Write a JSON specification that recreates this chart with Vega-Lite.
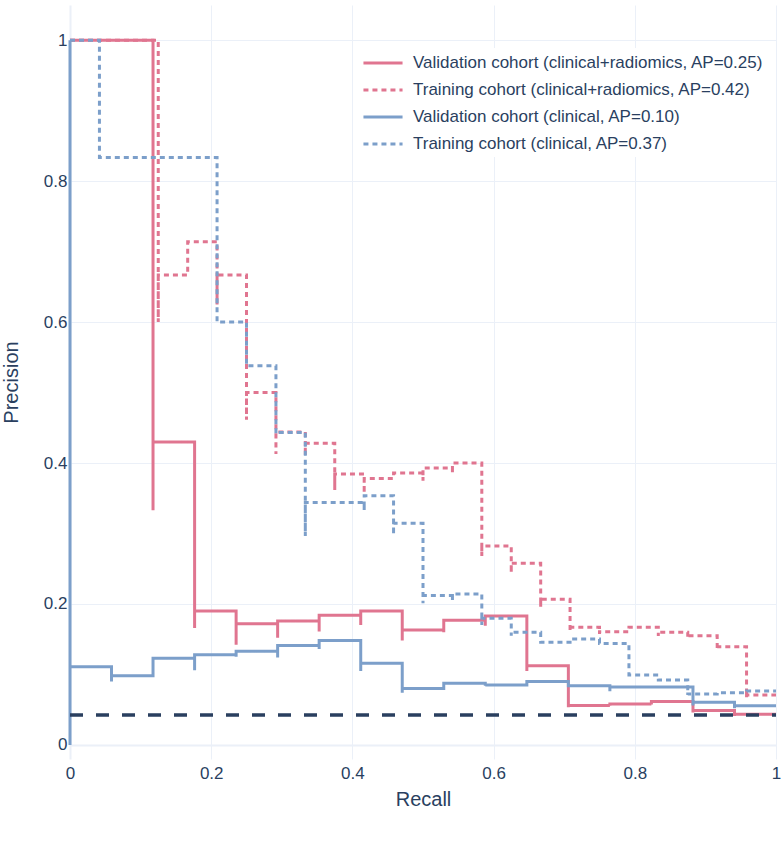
{
  "$schema": "https://vega.github.io/schema/vega-lite/v6.json",
  "width": 706,
  "height": 754,
  "autosize": {"type": "none"},
  "padding": {"left": 70, "top": 5, "right": 5, "bottom": 86},
  "background": "white",
  "config": {
    "view": {"stroke": null},
    "font": "Liberation Sans",
    "axis": {
      "domain": false,
      "ticks": false,
      "gridColor": "#ebf0f8",
      "gridWidth": {"condition": {"test": "datum.value === 0", "value": 2}, "value": 1},
      "labelFontSize": 17,
      "labelColor": "#2a3f5f",
      "titleFontSize": 20,
      "titleColor": "#2a3f5f",
      "titleFontWeight": "normal",
      "labelFont": "Liberation Sans",
      "titleFont": "Liberation Sans"
    }
  },
  "datasets": {
    "curves": [
      {"series": "Validation cohort (clinical+radiomics, AP=0.25)", "i": 0, "recall": 0, "precision": 1},
      {"series": "Validation cohort (clinical+radiomics, AP=0.25)", "i": 1, "recall": 0.1176, "precision": 1},
      {"series": "Validation cohort (clinical+radiomics, AP=0.25)", "i": 2, "recall": 0.1176, "precision": 0.333},
      {"series": "Validation cohort (clinical+radiomics, AP=0.25)", "i": 3, "recall": 0.1765, "precision": 0.43},
      {"series": "Validation cohort (clinical+radiomics, AP=0.25)", "i": 4, "recall": 0.1765, "precision": 0.166},
      {"series": "Validation cohort (clinical+radiomics, AP=0.25)", "i": 5, "recall": 0.2353, "precision": 0.19},
      {"series": "Validation cohort (clinical+radiomics, AP=0.25)", "i": 6, "recall": 0.2353, "precision": 0.142},
      {"series": "Validation cohort (clinical+radiomics, AP=0.25)", "i": 7, "recall": 0.2941, "precision": 0.172},
      {"series": "Validation cohort (clinical+radiomics, AP=0.25)", "i": 8, "recall": 0.2941, "precision": 0.152},
      {"series": "Validation cohort (clinical+radiomics, AP=0.25)", "i": 9, "recall": 0.3529, "precision": 0.176},
      {"series": "Validation cohort (clinical+radiomics, AP=0.25)", "i": 10, "recall": 0.3529, "precision": 0.161},
      {"series": "Validation cohort (clinical+radiomics, AP=0.25)", "i": 11, "recall": 0.4118, "precision": 0.184},
      {"series": "Validation cohort (clinical+radiomics, AP=0.25)", "i": 12, "recall": 0.4118, "precision": 0.17},
      {"series": "Validation cohort (clinical+radiomics, AP=0.25)", "i": 13, "recall": 0.4706, "precision": 0.19},
      {"series": "Validation cohort (clinical+radiomics, AP=0.25)", "i": 14, "recall": 0.4706, "precision": 0.148},
      {"series": "Validation cohort (clinical+radiomics, AP=0.25)", "i": 15, "recall": 0.5294, "precision": 0.163},
      {"series": "Validation cohort (clinical+radiomics, AP=0.25)", "i": 16, "recall": 0.5294, "precision": 0.16},
      {"series": "Validation cohort (clinical+radiomics, AP=0.25)", "i": 17, "recall": 0.5882, "precision": 0.177},
      {"series": "Validation cohort (clinical+radiomics, AP=0.25)", "i": 18, "recall": 0.5882, "precision": 0.169},
      {"series": "Validation cohort (clinical+radiomics, AP=0.25)", "i": 19, "recall": 0.6471, "precision": 0.183},
      {"series": "Validation cohort (clinical+radiomics, AP=0.25)", "i": 20, "recall": 0.6471, "precision": 0.105},
      {"series": "Validation cohort (clinical+radiomics, AP=0.25)", "i": 21, "recall": 0.7059, "precision": 0.1125},
      {"series": "Validation cohort (clinical+radiomics, AP=0.25)", "i": 22, "recall": 0.7059, "precision": 0.0535},
      {"series": "Validation cohort (clinical+radiomics, AP=0.25)", "i": 23, "recall": 0.7647, "precision": 0.0558},
      {"series": "Validation cohort (clinical+radiomics, AP=0.25)", "i": 24, "recall": 0.7647, "precision": 0.0555},
      {"series": "Validation cohort (clinical+radiomics, AP=0.25)", "i": 25, "recall": 0.8235, "precision": 0.058},
      {"series": "Validation cohort (clinical+radiomics, AP=0.25)", "i": 26, "recall": 0.8235, "precision": 0.0575},
      {"series": "Validation cohort (clinical+radiomics, AP=0.25)", "i": 27, "recall": 0.8824, "precision": 0.0615},
      {"series": "Validation cohort (clinical+radiomics, AP=0.25)", "i": 28, "recall": 0.8824, "precision": 0.046},
      {"series": "Validation cohort (clinical+radiomics, AP=0.25)", "i": 29, "recall": 0.9412, "precision": 0.0487},
      {"series": "Validation cohort (clinical+radiomics, AP=0.25)", "i": 30, "recall": 0.9412, "precision": 0.041},
      {"series": "Validation cohort (clinical+radiomics, AP=0.25)", "i": 31, "recall": 1, "precision": 0.0435},

      {"series": "Training cohort (clinical+radiomics, AP=0.42)", "i": 0, "recall": 0, "precision": 1},
      {"series": "Training cohort (clinical+radiomics, AP=0.42)", "i": 1, "recall": 0.125, "precision": 1},
      {"series": "Training cohort (clinical+radiomics, AP=0.42)", "i": 2, "recall": 0.125, "precision": 0.6},
      {"series": "Training cohort (clinical+radiomics, AP=0.42)", "i": 3, "recall": 0.1667, "precision": 0.667},
      {"series": "Training cohort (clinical+radiomics, AP=0.42)", "i": 4, "recall": 0.2083, "precision": 0.714},
      {"series": "Training cohort (clinical+radiomics, AP=0.42)", "i": 5, "recall": 0.2083, "precision": 0.625},
      {"series": "Training cohort (clinical+radiomics, AP=0.42)", "i": 6, "recall": 0.25, "precision": 0.667},
      {"series": "Training cohort (clinical+radiomics, AP=0.42)", "i": 7, "recall": 0.25, "precision": 0.4615},
      {"series": "Training cohort (clinical+radiomics, AP=0.42)", "i": 8, "recall": 0.2917, "precision": 0.5},
      {"series": "Training cohort (clinical+radiomics, AP=0.42)", "i": 9, "recall": 0.2917, "precision": 0.413},
      {"series": "Training cohort (clinical+radiomics, AP=0.42)", "i": 10, "recall": 0.3333, "precision": 0.444},
      {"series": "Training cohort (clinical+radiomics, AP=0.42)", "i": 11, "recall": 0.3333, "precision": 0.41},
      {"series": "Training cohort (clinical+radiomics, AP=0.42)", "i": 12, "recall": 0.375, "precision": 0.428},
      {"series": "Training cohort (clinical+radiomics, AP=0.42)", "i": 13, "recall": 0.375, "precision": 0.3617},
      {"series": "Training cohort (clinical+radiomics, AP=0.42)", "i": 14, "recall": 0.4167, "precision": 0.3845},
      {"series": "Training cohort (clinical+radiomics, AP=0.42)", "i": 15, "recall": 0.4167, "precision": 0.357},
      {"series": "Training cohort (clinical+radiomics, AP=0.42)", "i": 16, "recall": 0.4583, "precision": 0.378},
      {"series": "Training cohort (clinical+radiomics, AP=0.42)", "i": 17, "recall": 0.5, "precision": 0.386},
      {"series": "Training cohort (clinical+radiomics, AP=0.42)", "i": 18, "recall": 0.5, "precision": 0.375},
      {"series": "Training cohort (clinical+radiomics, AP=0.42)", "i": 19, "recall": 0.5417, "precision": 0.393},
      {"series": "Training cohort (clinical+radiomics, AP=0.42)", "i": 20, "recall": 0.5417, "precision": 0.385},
      {"series": "Training cohort (clinical+radiomics, AP=0.42)", "i": 21, "recall": 0.5833, "precision": 0.4},
      {"series": "Training cohort (clinical+radiomics, AP=0.42)", "i": 22, "recall": 0.5833, "precision": 0.268},
      {"series": "Training cohort (clinical+radiomics, AP=0.42)", "i": 23, "recall": 0.625, "precision": 0.2823},
      {"series": "Training cohort (clinical+radiomics, AP=0.42)", "i": 24, "recall": 0.625, "precision": 0.244},
      {"series": "Training cohort (clinical+radiomics, AP=0.42)", "i": 25, "recall": 0.6667, "precision": 0.2577},
      {"series": "Training cohort (clinical+radiomics, AP=0.42)", "i": 26, "recall": 0.6667, "precision": 0.196},
      {"series": "Training cohort (clinical+radiomics, AP=0.42)", "i": 27, "recall": 0.7083, "precision": 0.2067},
      {"series": "Training cohort (clinical+radiomics, AP=0.42)", "i": 28, "recall": 0.7083, "precision": 0.1617},
      {"series": "Training cohort (clinical+radiomics, AP=0.42)", "i": 29, "recall": 0.75, "precision": 0.167},
      {"series": "Training cohort (clinical+radiomics, AP=0.42)", "i": 30, "recall": 0.75, "precision": 0.1574},
      {"series": "Training cohort (clinical+radiomics, AP=0.42)", "i": 31, "recall": 0.7917, "precision": 0.1607},
      {"series": "Training cohort (clinical+radiomics, AP=0.42)", "i": 32, "recall": 0.8333, "precision": 0.167},
      {"series": "Training cohort (clinical+radiomics, AP=0.42)", "i": 33, "recall": 0.8333, "precision": 0.1546},
      {"series": "Training cohort (clinical+radiomics, AP=0.42)", "i": 34, "recall": 0.875, "precision": 0.16},
      {"series": "Training cohort (clinical+radiomics, AP=0.42)", "i": 35, "recall": 0.875, "precision": 0.152},
      {"series": "Training cohort (clinical+radiomics, AP=0.42)", "i": 36, "recall": 0.9167, "precision": 0.155},
      {"series": "Training cohort (clinical+radiomics, AP=0.42)", "i": 37, "recall": 0.9167, "precision": 0.135},
      {"series": "Training cohort (clinical+radiomics, AP=0.42)", "i": 38, "recall": 0.9583, "precision": 0.1394},
      {"series": "Training cohort (clinical+radiomics, AP=0.42)", "i": 39, "recall": 0.9583, "precision": 0.0676},
      {"series": "Training cohort (clinical+radiomics, AP=0.42)", "i": 40, "recall": 1, "precision": 0.0709},

      {"series": "Validation cohort (clinical, AP=0.10)", "i": 0, "recall": 0, "precision": 1},
      {"series": "Validation cohort (clinical, AP=0.10)", "i": 1, "recall": 0, "precision": 0},
      {"series": "Validation cohort (clinical, AP=0.10)", "i": 2, "recall": 0.0588, "precision": 0.111},
      {"series": "Validation cohort (clinical, AP=0.10)", "i": 3, "recall": 0.0588, "precision": 0.09},
      {"series": "Validation cohort (clinical, AP=0.10)", "i": 4, "recall": 0.1176, "precision": 0.098},
      {"series": "Validation cohort (clinical, AP=0.10)", "i": 5, "recall": 0.1765, "precision": 0.123},
      {"series": "Validation cohort (clinical, AP=0.10)", "i": 6, "recall": 0.1765, "precision": 0.106},
      {"series": "Validation cohort (clinical, AP=0.10)", "i": 7, "recall": 0.2353, "precision": 0.128},
      {"series": "Validation cohort (clinical, AP=0.10)", "i": 8, "recall": 0.2353, "precision": 0.125},
      {"series": "Validation cohort (clinical, AP=0.10)", "i": 9, "recall": 0.2941, "precision": 0.133},
      {"series": "Validation cohort (clinical, AP=0.10)", "i": 10, "recall": 0.2941, "precision": 0.124},
      {"series": "Validation cohort (clinical, AP=0.10)", "i": 11, "recall": 0.3529, "precision": 0.141},
      {"series": "Validation cohort (clinical, AP=0.10)", "i": 12, "recall": 0.3529, "precision": 0.136},
      {"series": "Validation cohort (clinical, AP=0.10)", "i": 13, "recall": 0.4118, "precision": 0.148},
      {"series": "Validation cohort (clinical, AP=0.10)", "i": 14, "recall": 0.4118, "precision": 0.105},
      {"series": "Validation cohort (clinical, AP=0.10)", "i": 15, "recall": 0.4706, "precision": 0.116},
      {"series": "Validation cohort (clinical, AP=0.10)", "i": 16, "recall": 0.4706, "precision": 0.074},
      {"series": "Validation cohort (clinical, AP=0.10)", "i": 17, "recall": 0.5294, "precision": 0.08},
      {"series": "Validation cohort (clinical, AP=0.10)", "i": 18, "recall": 0.5882, "precision": 0.0875},
      {"series": "Validation cohort (clinical, AP=0.10)", "i": 19, "recall": 0.5882, "precision": 0.084},
      {"series": "Validation cohort (clinical, AP=0.10)", "i": 20, "recall": 0.6471, "precision": 0.085},
      {"series": "Validation cohort (clinical, AP=0.10)", "i": 21, "recall": 0.7059, "precision": 0.09},
      {"series": "Validation cohort (clinical, AP=0.10)", "i": 22, "recall": 0.7647, "precision": 0.084},
      {"series": "Validation cohort (clinical, AP=0.10)", "i": 23, "recall": 0.7647, "precision": 0.076},
      {"series": "Validation cohort (clinical, AP=0.10)", "i": 24, "recall": 0.8824, "precision": 0.082},
      {"series": "Validation cohort (clinical, AP=0.10)", "i": 25, "recall": 0.8824, "precision": 0.056},
      {"series": "Validation cohort (clinical, AP=0.10)", "i": 26, "recall": 0.9412, "precision": 0.0605},
      {"series": "Validation cohort (clinical, AP=0.10)", "i": 27, "recall": 0.9412, "precision": 0.052},
      {"series": "Validation cohort (clinical, AP=0.10)", "i": 28, "recall": 1, "precision": 0.0557},

      {"series": "Training cohort (clinical, AP=0.37)", "i": 0, "recall": 0, "precision": 1},
      {"series": "Training cohort (clinical, AP=0.37)", "i": 1, "recall": 0.0417, "precision": 1},
      {"series": "Training cohort (clinical, AP=0.37)", "i": 2, "recall": 0.2083, "precision": 0.8337},
      {"series": "Training cohort (clinical, AP=0.37)", "i": 3, "recall": 0.2083, "precision": 0.6},
      {"series": "Training cohort (clinical, AP=0.37)", "i": 4, "recall": 0.25, "precision": 0.6},
      {"series": "Training cohort (clinical, AP=0.37)", "i": 5, "recall": 0.2917, "precision": 0.538},
      {"series": "Training cohort (clinical, AP=0.37)", "i": 6, "recall": 0.2917, "precision": 0.442},
      {"series": "Training cohort (clinical, AP=0.37)", "i": 7, "recall": 0.3333, "precision": 0.4435},
      {"series": "Training cohort (clinical, AP=0.37)", "i": 8, "recall": 0.3333, "precision": 0.2965},
      {"series": "Training cohort (clinical, AP=0.37)", "i": 9, "recall": 0.4167, "precision": 0.344},
      {"series": "Training cohort (clinical, AP=0.37)", "i": 10, "recall": 0.4167, "precision": 0.333},
      {"series": "Training cohort (clinical, AP=0.37)", "i": 11, "recall": 0.4583, "precision": 0.3536},
      {"series": "Training cohort (clinical, AP=0.37)", "i": 12, "recall": 0.4583, "precision": 0.298},
      {"series": "Training cohort (clinical, AP=0.37)", "i": 13, "recall": 0.5, "precision": 0.3145},
      {"series": "Training cohort (clinical, AP=0.37)", "i": 14, "recall": 0.5, "precision": 0.201},
      {"series": "Training cohort (clinical, AP=0.37)", "i": 15, "recall": 0.5417, "precision": 0.212},
      {"series": "Training cohort (clinical, AP=0.37)", "i": 16, "recall": 0.5417, "precision": 0.205},
      {"series": "Training cohort (clinical, AP=0.37)", "i": 17, "recall": 0.5833, "precision": 0.2142},
      {"series": "Training cohort (clinical, AP=0.37)", "i": 18, "recall": 0.5833, "precision": 0.17},
      {"series": "Training cohort (clinical, AP=0.37)", "i": 19, "recall": 0.625, "precision": 0.1797},
      {"series": "Training cohort (clinical, AP=0.37)", "i": 20, "recall": 0.625, "precision": 0.155},
      {"series": "Training cohort (clinical, AP=0.37)", "i": 21, "recall": 0.6667, "precision": 0.16},
      {"series": "Training cohort (clinical, AP=0.37)", "i": 22, "recall": 0.7083, "precision": 0.1457},
      {"series": "Training cohort (clinical, AP=0.37)", "i": 23, "recall": 0.75, "precision": 0.1504},
      {"series": "Training cohort (clinical, AP=0.37)", "i": 24, "recall": 0.7917, "precision": 0.144},
      {"series": "Training cohort (clinical, AP=0.37)", "i": 25, "recall": 0.8333, "precision": 0.0993},
      {"series": "Training cohort (clinical, AP=0.37)", "i": 26, "recall": 0.875, "precision": 0.092},
      {"series": "Training cohort (clinical, AP=0.37)", "i": 27, "recall": 0.875, "precision": 0.0709},
      {"series": "Training cohort (clinical, AP=0.37)", "i": 28, "recall": 0.9167, "precision": 0.0723},
      {"series": "Training cohort (clinical, AP=0.37)", "i": 29, "recall": 0.9583, "precision": 0.074},
      {"series": "Training cohort (clinical, AP=0.37)", "i": 30, "recall": 1, "precision": 0.0766}
    ],
    "baseline": [
      {"recall": 0, "precision": 0.0426},
      {"recall": 1, "precision": 0.0426}
    ]
  },
  "data": {"name": "curves"},
  "encoding": {
    "x": {
      "field": "recall", "type": "quantitative",
      "scale": {"domain": [0, 1], "nice": false, "zero": false},
      "axis": {"title": "Recall", "values": [0, 0.2, 0.4, 0.6, 0.8, 1], "format": "~g", "labelPadding": 6, "titlePadding": 8, "labelFlush": false}
    },
    "y": {
      "field": "precision", "type": "quantitative",
      "scale": {"domain": [-0.02, 1.05], "nice": false, "zero": false},
      "axis": {"title": "Precision", "values": [0, 0.2, 0.4, 0.6, 0.8, 1], "format": "~g", "labelPadding": 3, "titlePadding": 22}
    }
  },
  "layer": [
    {
      "transform": [{"filter": "datum.series === 'Validation cohort (clinical+radiomics, AP=0.25)'"}],
      "mark": {"type": "line", "interpolate": "step-before", "strokeWidth": 3, "strokeCap": "butt"},
      "encoding": {
        "order": {"field": "i", "type": "quantitative"},
        "color": {"field": "series", "type": "nominal"},
        "strokeDash": {"field": "series", "type": "nominal"}
      }
    },
    {
      "transform": [{"filter": "datum.series === 'Training cohort (clinical+radiomics, AP=0.42)'"}],
      "mark": {"type": "line", "interpolate": "step-before", "strokeWidth": 3, "strokeCap": "butt"},
      "encoding": {
        "order": {"field": "i", "type": "quantitative"},
        "color": {"field": "series", "type": "nominal"},
        "strokeDash": {"field": "series", "type": "nominal"}
      }
    },
    {
      "transform": [{"filter": "datum.series === 'Validation cohort (clinical, AP=0.10)'"}],
      "mark": {"type": "line", "interpolate": "step-before", "strokeWidth": 3, "strokeCap": "butt"},
      "encoding": {
        "order": {"field": "i", "type": "quantitative"},
        "color": {"field": "series", "type": "nominal"},
        "strokeDash": {"field": "series", "type": "nominal"}
      }
    },
    {
      "transform": [{"filter": "datum.series === 'Training cohort (clinical, AP=0.37)'"}],
      "mark": {"type": "line", "interpolate": "step-before", "strokeWidth": 3, "strokeCap": "butt"},
      "encoding": {
        "order": {"field": "i", "type": "quantitative"},
        "color": {
          "field": "series", "type": "nominal",
          "scale": {
            "domain": ["Validation cohort (clinical+radiomics, AP=0.25)", "Training cohort (clinical+radiomics, AP=0.42)", "Validation cohort (clinical, AP=0.10)", "Training cohort (clinical, AP=0.37)"],
            "range": ["#e07590", "#e07590", "#7c9fca", "#7c9fca"]
          },
          "legend": {
            "title": null,
            "orient": "none",
            "legendX": 298,
            "legendY": 43,
            "fillColor": "white",
            "padding": 5,
            "symbolType": "M-2.3,0H2.3",
            "symbolSize": 289,
            "symbolStrokeWidth": 3,
            "labelFontSize": 17,
            "labelColor": "#2a3f5f",
            "labelFont": "Liberation Sans",
            "labelOffset": 20,
            "labelLimit": 500,
            "rowPadding": 9
          }
        },
        "strokeDash": {
          "field": "series", "type": "nominal",
          "scale": {
            "domain": ["Validation cohort (clinical+radiomics, AP=0.25)", "Training cohort (clinical+radiomics, AP=0.42)", "Validation cohort (clinical, AP=0.10)", "Training cohort (clinical, AP=0.37)"],
            "range": [[1, 0], [5, 4], [1, 0], [5, 4]]
          }
        }
      }
    },
    {
      "data": {"name": "baseline"},
      "mark": {"type": "line", "strokeWidth": 3.5, "strokeDash": [13, 13], "color": "#2a3f5f"},
      "encoding": {}
    }
  ]
}
